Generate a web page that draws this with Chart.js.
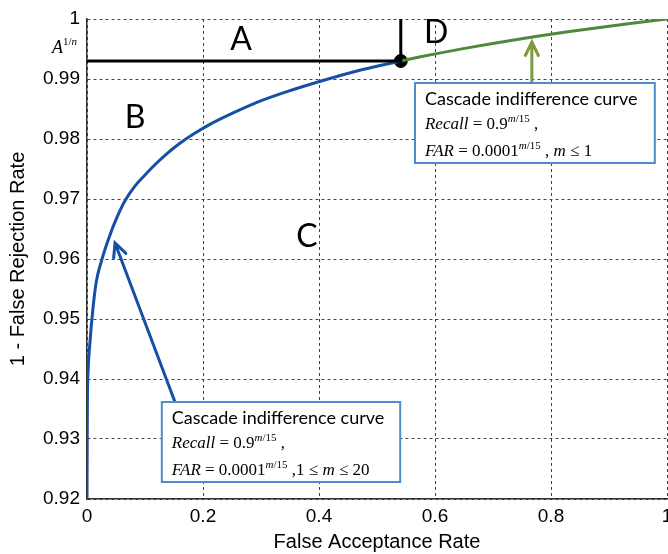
<!DOCTYPE html>
<html>
<head>
<meta charset="utf-8">
<script src="https://cdn.jsdelivr.net/npm/chart.js@4"></script>
<style>
  html, body { margin: 0; padding: 0; background: #fff; }
  canvas { display: block; }
</style>
</head>
<body>
<canvas id="chart" width="668" height="554"></canvas>
<script>
// Blue cascade curve, 1 <= m <= 20
const blueFar = [0.541, 0.464, 0.398, 0.342, 0.293, 0.251, 0.215, 0.185, 0.159, 0.136, 0.117, 0.100, 0.083, 0.066, 0.051, 0.037, 0.025, 0.016, 0.010, 0.005, 0.002, 0.0006, 0];
const blueRecall = [0.9930, 0.9913, 0.9895, 0.9878, 0.9861, 0.9843, 0.9826, 0.9809, 0.9792, 0.9774, 0.9757, 0.9740, 0.9722, 0.9698, 0.9668, 0.9633, 0.9597, 0.9562, 0.9515, 0.9460, 0.9415, 0.9350, 0.9200];

// Green cascade curve, m <= 1
const greenFar = [0.541, 0.575, 0.612, 0.651, 0.692, 0.736, 0.782, 0.832, 0.884, 0.940, 1.000];
const greenRecall = [0.9930, 0.9937, 0.9944, 0.9951, 0.9958, 0.9965, 0.9972, 0.9979, 0.9986, 0.9993, 1.0000];

// Black reference lines through A^(1/n) and the marked point
const refFar = [0, 0.541, 0.541];
const refRecall = [0.993, 0.993, 1];
const markFar = [0.541];
const markRecall = [0.993];

// Axis ticks
const xTicks = [0, 0.2, 0.4, 0.6, 0.8, 1];
const xTickLabels = ['0', '0.2', '0.4', '0.6', '0.8', '1'];
const yTicks = [0.92, 0.93, 0.94, 0.95, 0.96, 0.97, 0.98, 0.99, 1];
const yTickLabels = ['0.92', '0.93', '0.94', '0.95', '0.96', '0.97', '0.98', '0.99', '1'];

const BLUE = '#1450a3';
const GREEN = '#4f8a3c';
const OLIVE = '#7f9a3c';
const BOX = '#4a8ccc';

function toPoints(xs, ys) {
    return xs.map((x, i) => ({ x: x, y: ys[i] }));
}

const SERIF = '"Liberation Serif", "DejaVu Serif", serif';
const SANS = 'Lato, "Open Sans", sans-serif';

// Formula lines for the two boxes
const supRuns = [
    { t: 'm', font: 'italic 11px ' + SERIF, dy: -7 },
    { t: '/15', font: '11px ' + SERIF, dy: -7 }
];
const recallLine = [
    { t: 'Recall', font: 'italic 17px ' + SERIF },
    { t: ' = 0.9', font: '17px ' + SERIF },
    ...supRuns,
    { t: ' ,', font: '17px ' + SERIF }
];
const farLineGreen = [
    { t: 'FAR', font: 'italic 17px ' + SERIF },
    { t: ' = 0.0001', font: '17px ' + SERIF },
    ...supRuns,
    { t: ' , ', font: '17px ' + SERIF },
    { t: 'm', font: 'italic 17px ' + SERIF },
    { t: ' \u2264 1', font: '17px ' + SERIF }
];
const farLineBlue = [
    { t: 'FAR', font: 'italic 17px ' + SERIF },
    { t: ' = 0.0001', font: '17px ' + SERIF },
    ...supRuns,
    { t: ' ,1 \u2264 ', font: '17px ' + SERIF },
    { t: 'm', font: 'italic 17px ' + SERIF },
    { t: ' \u2264 20', font: '17px ' + SERIF }
];

// annotation positions in data units
const letters = [
    { t: 'A', x: 0.2655, y: 0.9965 },
    { t: 'B', x: 0.0828, y: 0.9835 },
    { t: 'C', x: 0.379, y: 0.9637 },
    { t: 'D', x: 0.602, y: 0.9978 }
];
const boxes = [
    { x0: 0.5655, y0: 0.98933, x1: 0.979, y1: 0.9760, lines: [recallLine, farLineGreen] },
    { x0: 0.129, y0: 0.93617, x1: 0.540, y1: 0.92283, lines: [recallLine, farLineBlue] }
];
const arrows = [
    { x0: 0.1517, y0: 0.93617, x1: 0.0483, y1: 0.96267, color: BLUE },
    { x0: 0.767, y0: 0.98933, x1: 0.767, y1: 0.99617, color: OLIVE }
];

function drawRuns(ctx, x, y, runs) {
    runs.forEach(r => {
        ctx.font = r.font;
        ctx.fillText(r.t, x, y + (r.dy || 0));
        x += ctx.measureText(r.t).width;
    });
}

function runsWidth(ctx, runs) {
    let w = 0;
    runs.forEach(r => {
        ctx.font = r.font;
        w += ctx.measureText(r.t).width;
    });
    return w;
}

function drawArrow(ctx, x0, y0, x1, y1, color) {
    const ang = Math.atan2(y1 - y0, x1 - x0);
    const len = 15, spread = 0.45;
    ctx.strokeStyle = color;
    ctx.lineWidth = 3;
    ctx.lineCap = 'round';
    ctx.beginPath();
    ctx.moveTo(x0, y0);
    ctx.lineTo(x1, y1);
    ctx.moveTo(x1 - len * Math.cos(ang - spread), y1 - len * Math.sin(ang - spread));
    ctx.lineTo(x1, y1);
    ctx.lineTo(x1 - len * Math.cos(ang + spread), y1 - len * Math.sin(ang + spread));
    ctx.stroke();
}

const annotationPlugin = {
    id: 'annotations',
    afterDatasetsDraw(chart) {
        const ctx = chart.ctx;
        const xs = chart.scales.x, ys = chart.scales.y;
        ctx.save();

        // region letters
        ctx.fillStyle = '#000';
        ctx.font = '32px ' + SANS;
        ctx.textAlign = 'center';
        ctx.textBaseline = 'middle';
        letters.forEach(l => ctx.fillText(l.t, xs.getPixelForValue(l.x), ys.getPixelForValue(l.y)));

        // A^(1/n) label next to the y axis
        ctx.textAlign = 'left';
        ctx.textBaseline = 'alphabetic';
        const aRuns = [
            { t: 'A', font: 'italic 18px ' + SERIF },
            { t: '1/', font: '11px ' + SERIF, dy: -8 },
            { t: 'n', font: 'italic 11px ' + SERIF, dy: -8 }
        ];
        const aw = runsWidth(ctx, aRuns);
        drawRuns(ctx, xs.left - 10 - aw, ys.getPixelForValue(0.9943), aRuns);

        // arrows
        arrows.forEach(a => drawArrow(ctx,
            xs.getPixelForValue(a.x0), ys.getPixelForValue(a.y0),
            xs.getPixelForValue(a.x1), ys.getPixelForValue(a.y1), a.color));

        // boxes
        boxes.forEach(b => {
            const left = xs.getPixelForValue(b.x0), top = ys.getPixelForValue(b.y0);
            const right = xs.getPixelForValue(b.x1), bottom = ys.getPixelForValue(b.y1);
            ctx.fillStyle = '#fff';
            ctx.fillRect(left, top, right - left, bottom - top);
            ctx.strokeStyle = BOX;
            ctx.lineWidth = 2;
            ctx.strokeRect(left, top, right - left, bottom - top);
            ctx.fillStyle = '#000';
            ctx.font = '18px ' + SANS;
            ctx.fillText('Cascade indifference curve', left + 10, top + 22);
            drawRuns(ctx, left + 10, top + 46, b.lines[0]);
            drawRuns(ctx, left + 10, top + 73, b.lines[1]);
        });
        ctx.restore();
    }
};

const tickFont = { family: '"Liberation Sans", Arial, sans-serif', size: 19 };
const titleFont = { family: '"Liberation Sans", Arial, sans-serif', size: 20 };

new Chart(document.getElementById('chart'), {
    type: 'scatter',
    data: {
        datasets: [
            {
                data: toPoints(refFar, refRecall),
                showLine: true,
                borderColor: '#000',
                borderWidth: 3,
                pointRadius: 0
            },
            {
                data: toPoints(blueFar, blueRecall),
                showLine: true,
                borderColor: BLUE,
                borderWidth: 3,
                pointRadius: 0,
                cubicInterpolationMode: 'monotone'
            },
            {
                data: toPoints(greenFar, greenRecall),
                showLine: true,
                borderColor: GREEN,
                borderWidth: 3,
                pointRadius: 0
            },
            {
                data: toPoints(markFar, markRecall),
                pointRadius: 6.5,
                pointBackgroundColor: '#000',
                pointBorderColor: '#000',
                clip: false
            }
        ]
    },
    options: {
        responsive: false,
        animation: false,
        devicePixelRatio: 1,
        layout: { autoPadding: false, padding: { top: 19, right: 1, left: 0, bottom: 0 } },
        plugins: {
            legend: { display: false },
            tooltip: { enabled: false }
        },
        scales: {
            x: {
                type: 'linear',
                min: 0,
                max: 1,
                afterBuildTicks: scale => { scale.ticks = xTicks.map(v => ({ value: v })); },
                afterFit: scale => { scale.paddingLeft = 0; scale.paddingRight = 0; scale.height = 55; },
                ticks: {
                    color: '#000',
                    font: tickFont,
                    padding: 6,
                    maxRotation: 0,
                    callback: (v, i) => xTickLabels[i]
                },
                grid: {
                    color: '#444',
                    lineWidth: 1,
                    drawTicks: false
                },
                border: { display: true, color: '#333', width: 1.5, dash: [3, 3] },
                title: {
                    display: true,
                    text: 'False Acceptance Rate',
                    color: '#000',
                    font: titleFont,
                    padding: { top: 0, bottom: 0 }
                }
            },
            y: {
                type: 'linear',
                min: 0.92,
                max: 1,
                afterBuildTicks: scale => { scale.ticks = yTicks.map(v => ({ value: v })); },
                afterFit: scale => { scale.paddingTop = 0; scale.paddingBottom = 0; scale.width = 87; },
                ticks: {
                    color: '#000',
                    font: tickFont,
                    padding: 7,
                    callback: (v, i) => yTickLabels[i]
                },
                grid: {
                    color: '#444',
                    lineWidth: 1,
                    drawTicks: false
                },
                border: { display: true, color: '#333', width: 1.5, dash: [3, 3] },
                title: {
                    display: true,
                    text: '1 - False Rejection Rate',
                    color: '#000',
                    font: titleFont,
                    padding: { top: 6, bottom: 0 }
                }
            }
        }
    },
    plugins: [annotationPlugin]
});
</script>
</body>
</html>
